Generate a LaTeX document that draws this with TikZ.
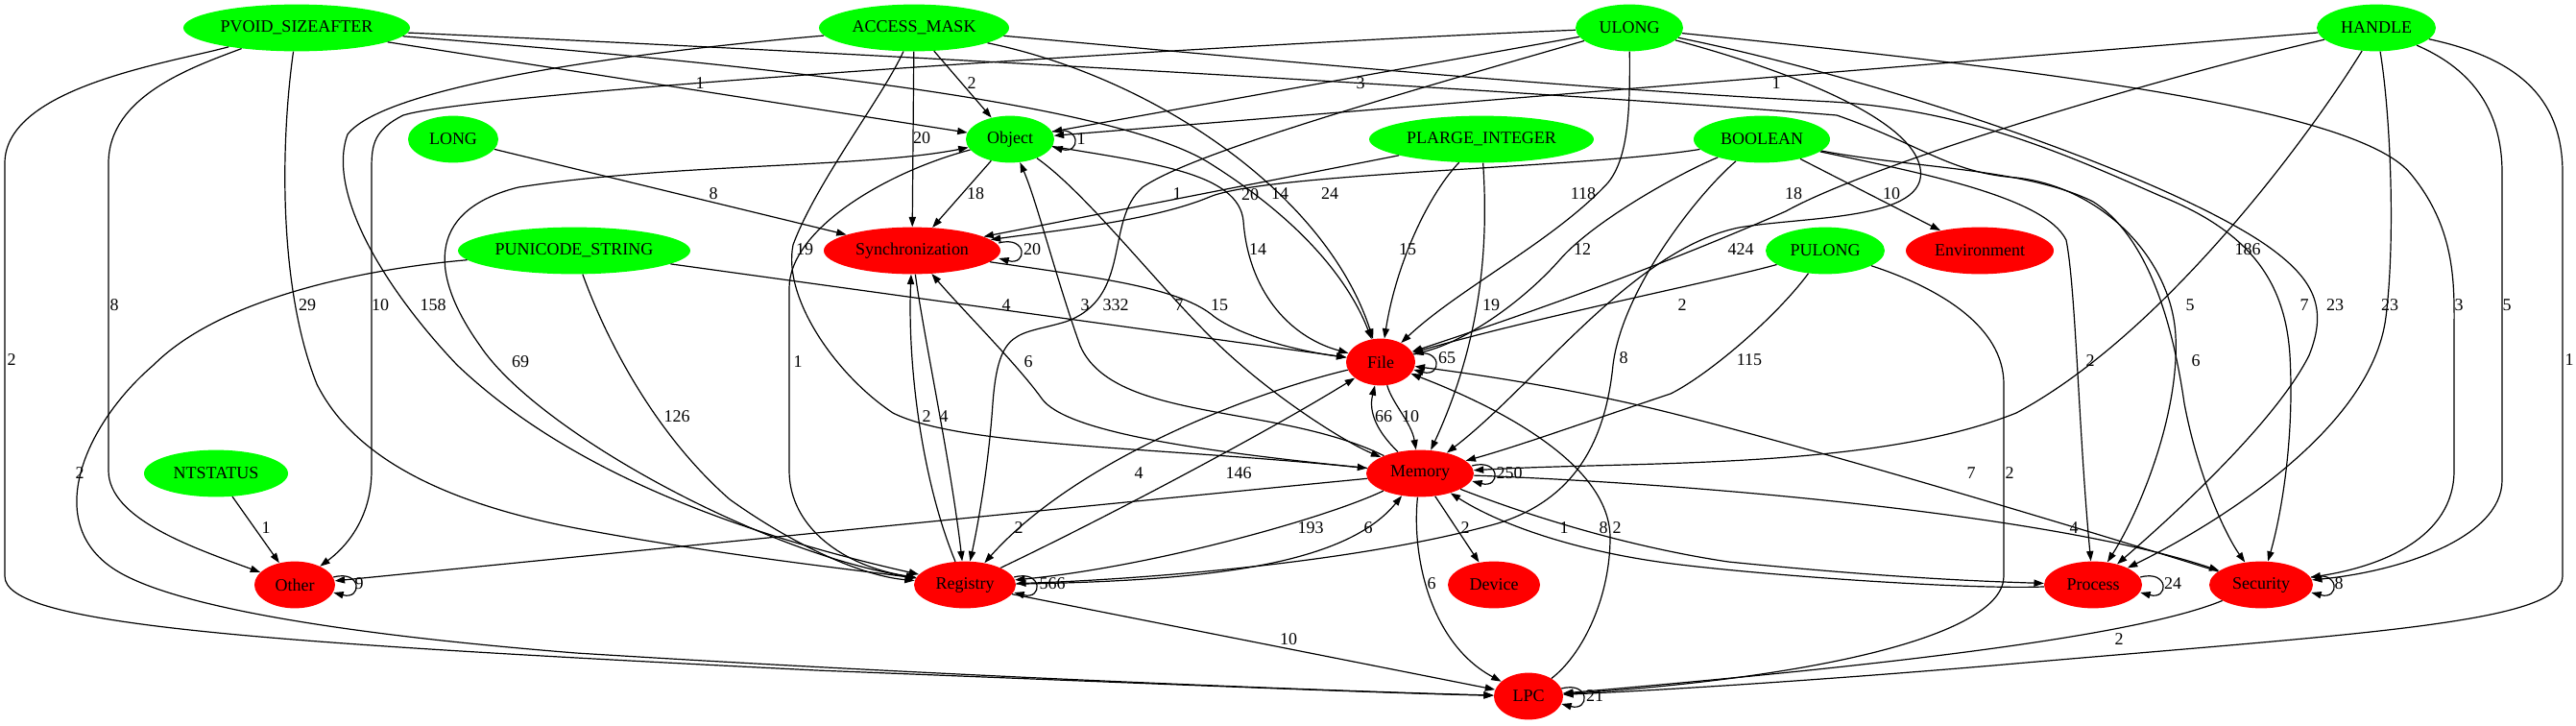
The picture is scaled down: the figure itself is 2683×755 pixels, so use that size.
\documentclass[tikz,border=0pt]{standalone}
\usepackage{fontspec}
\setmainfont{Liberation Serif}
\usetikzlibrary{shapes.geometric,arrows.meta}
\definecolor{gvgreen}{RGB}{0,255,0}
\definecolor{gvred}{RGB}{255,0,0}
\begin{document}
\begin{tikzpicture}[x=0.25mm,y=-0.25mm,font=\fontsize{12.8}{15}\selectfont,
  gn/.style={ellipse,fill=gvgreen,inner sep=0pt,minimum height=12.2mm},
  rn/.style={ellipse,fill=gvred,inner sep=0pt,minimum height=12.2mm},
  lbl/.style={inner sep=0pt},
  conn/.style={-{Triangle[length=2.6mm,width=1.8mm]},line width=0.3mm}]
\useasboundingbox (0,0) rectangle (2683,755);
% nodes
\node[gn,minimum width=59mm] (pvoid) at (309,29) {PVOID\_SIZEAFTER};
\node[gn,minimum width=49.5mm] (access) at (952,29) {ACCESS\_MASK};
\node[gn,minimum width=28mm] (ulong) at (1697,29) {ULONG};
\node[gn,minimum width=31mm] (handle) at (2475,29) {HANDLE};
\node[gn,minimum width=23.5mm] (longn) at (472,145) {LONG};
\node[gn,minimum width=23mm] (object) at (1052,145) {Object};
\node[gn,minimum width=58.5mm] (plarge) at (1543,145) {PLARGE\_INTEGER};
\node[gn,minimum width=35.5mm] (boolean) at (1835,145) {BOOLEAN};
\node[gn,minimum width=60.5mm] (punicode) at (598,261) {PUNICODE\_STRING};
\node[rn,minimum width=46mm] (sync) at (950,261) {Synchronization};
\node[gn,minimum width=31mm] (pulong) at (1901,261) {PULONG};
\node[rn,minimum width=38.5mm] (env) at (2062,261) {Environment};
\node[rn,minimum width=18mm] (file) at (1438,377) {File};
\node[gn,minimum width=37.5mm] (ntstatus) at (225,493) {NTSTATUS};
\node[rn,minimum width=28mm] (memory) at (1479,493) {Memory};
\node[rn,minimum width=21mm] (other) at (307,609) {Other};
\node[rn,minimum width=26.5mm] (registry) at (1005,609) {Registry};
\node[rn,minimum width=24mm] (device) at (1556,609) {Device};
\node[rn,minimum width=25.5mm] (process) at (2180,609) {Process};
\node[rn,minimum width=27mm] (security) at (2355,609) {Security};
\node[rn,minimum width=18mm] (lpc) at (1592,725) {LPC};
% PVOID_SIZEAFTER
\draw[conn] (pvoid) -- (object);
\draw[conn] (pvoid) .. controls (200,70) and (113,100) .. (113,170) -- (113,490) .. controls (113,540) and (200,570) .. (other);
\draw[conn] (pvoid) .. controls (180,65) and (5,90) .. (5,170) -- (5,600) .. controls (5,650) and (250,668) .. (850,698) .. controls (1200,712) and (1450,722) .. (lpc);
\draw[conn] (pvoid) .. controls (292,150) and (290,300) .. (330,400) .. controls (370,480) and (470,525) .. (600,550) .. controls (750,578) and (880,592) .. (registry);
\draw[conn] (pvoid) .. controls (700,60) and (1150,100) .. (1260,170) .. controls (1340,220) and (1400,280) .. (file);
\draw[conn] (pvoid) .. controls (900,55) and (1600,95) .. (1913,120) .. controls (2000,150) and (2030,180) .. (2100,185) .. controls (2190,195) and (2262,270) .. (2266,350) .. controls (2270,430) and (2230,530) .. (process);
% ACCESS_MASK
\draw[conn] (access) .. controls (1300,60) and (1600,90) .. (1908,106) .. controls (2050,115) and (2150,160) .. (2250,204) .. controls (2340,240) and (2380,290) .. (2385,370) .. controls (2390,460) and (2375,540) .. (security);
\draw[conn] (access) .. controls (650,55) and (400,90) .. (362,140) .. controls (340,200) and (400,300) .. (476,380) .. controls (560,460) and (700,540) .. (registry);
\draw[conn] (access) -- (object);
\draw[conn] (access) -- (sync);
\draw[conn] (access) .. controls (920,100) and (850,190) .. (826,255) .. controls (815,310) and (870,390) .. (930,430) .. controls (1000,465) and (1200,465) .. (memory);
\draw[conn] (access) .. controls (1200,80) and (1380,200) .. (file);
% ULONG
\draw[conn] (ulong) -- (object);
\draw[conn] (ulong) .. controls (1300,45) and (500,95) .. (420,120) .. controls (390,135) and (387,150) .. (387,175) -- (387,490) .. controls (387,540) and (360,570) .. (other);
\draw[conn] (ulong) .. controls (1450,100) and (1240,160) .. (1190,195) .. controls (1150,230) and (1180,310) .. (1110,335) .. controls (1060,350) and (1040,340) .. (1034,420) .. controls (1030,480) and (1020,540) .. (registry);
\draw[conn] (ulong) .. controls (1698,120) and (1695,165) .. (1675,190) .. controls (1620,250) and (1520,300) .. (file);
\draw[conn] (ulong) .. controls (1850,70) and (1990,120) .. (2000,175) .. controls (2010,230) and (1880,225) .. (1811,237) .. controls (1700,260) and (1600,400) .. (memory);
\draw[conn] (ulong) .. controls (1950,80) and (2250,180) .. (2360,255) .. controls (2410,290) and (2425,320) .. (2405,370) .. controls (2370,440) and (2260,540) .. (process);
\draw[conn] (ulong) .. controls (2100,70) and (2450,110) .. (2510,180) .. controls (2560,240) and (2556,300) .. (2556,350) -- (2556,490) .. controls (2556,560) and (2480,590) .. (security);
% HANDLE
\draw[conn] (handle) -- (object);
\draw[conn] (handle) .. controls (2250,80) and (1950,170) .. (1860,220) .. controls (1700,290) and (1550,340) .. (file);
\draw[conn] (handle) .. controls (2400,150) and (2250,350) .. (2100,430) .. controls (1950,490) and (1700,480) .. (memory);
\draw[conn] (handle) .. controls (2490,120) and (2495,250) .. (2485,330) .. controls (2470,450) and (2300,550) .. (process);
\draw[conn] (handle) .. controls (2570,70) and (2606,110) .. (2606,180) -- (2606,500) .. controls (2606,560) and (2500,595) .. (security);
\draw[conn] (handle) .. controls (2620,60) and (2669,100) .. (2669,180) -- (2669,600) .. controls (2669,650) and (2450,660) .. (2076,693) .. controls (1850,712) and (1700,720) .. (lpc);
% LONG, NTSTATUS
\draw[conn] (longn) -- (sync);
\draw[conn] (ntstatus) -- (other);
% PLARGE_INTEGER
\draw[conn] (plarge) -- (sync);
\draw[conn] (plarge) .. controls (1490,200) and (1455,270) .. (file);
\draw[conn] (plarge) .. controls (1550,250) and (1545,350) .. (memory);
% BOOLEAN
\draw[conn] (boolean) .. controls (1650,175) and (1320,180) .. (1260,205) .. controls (1200,230) and (1100,240) .. (sync);
\draw[conn] (boolean) .. controls (1750,180) and (1660,230) .. (1625,270) .. controls (1590,310) and (1530,355) .. (file);
\draw[conn] (boolean) .. controls (1770,200) and (1690,300) .. (1680,380) .. controls (1672,460) and (1640,520) .. (1560,545) .. controls (1400,590) and (1150,605) .. (registry);
\draw[conn] (boolean) -- (env);
\draw[conn] (boolean) .. controls (2000,180) and (2130,205) .. (2152,250) .. controls (2162,300) and (2165,450) .. (process);
\draw[conn] (boolean) .. controls (1990,175) and (2110,175) .. (2180,210) .. controls (2235,245) and (2262,330) .. (2275,420) .. controls (2290,500) and (2320,560) .. (security);
% PULONG
\draw[conn] (pulong) .. controls (1800,290) and (1600,330) .. (file);
\draw[conn] (pulong) .. controls (1850,330) and (1780,390) .. (1740,410) .. controls (1650,440) and (1580,465) .. (memory);
\draw[conn] (pulong) .. controls (2020,300) and (2087,340) .. (2087,400) -- (2087,600) .. controls (2087,660) and (1900,705) .. (lpc);
% PUNICODE_STRING
\draw[conn] (punicode) -- (file);
\draw[conn] (punicode) .. controls (630,350) and (680,450) .. (760,520) .. controls (830,570) and (900,600) .. (registry);
\draw[conn] (punicode) .. controls (380,280) and (230,310) .. (160,380) .. controls (90,440) and (45,540) .. (115,590) .. controls (170,630) and (350,660) .. (600,680) .. controls (1000,705) and (1400,720) .. (lpc);
% Object
\draw[conn] (object) -- (sync);
\draw[conn] (object) .. controls (1200,170) and (1290,180) .. (1295,230) .. controls (1300,300) and (1340,350) .. (file);
\draw[conn] (object) .. controls (1130,200) and (1200,290) .. (1260,350) .. controls (1320,410) and (1400,460) .. (memory);
\draw[conn] (object) .. controls (920,180) and (822,240) .. (822,300) -- (822,490) .. controls (822,550) and (880,590) .. (registry);
% Synchronization
\draw[conn] (sync) .. controls (1150,290) and (1230,300) .. (1265,330) .. controls (1300,355) and (1370,368) .. (file);
\draw[conn] (sync) .. controls (962,350) and (990,480) .. (registry);
% Registry
\draw[conn] (registry) .. controls (960,500) and (945,380) .. (sync);
\draw[conn] (registry) .. controls (800,580) and (560,450) .. (500,360) .. controls (450,290) and (440,220) .. (540,195) .. controls (700,170) and (900,175) .. (object);
\draw[conn] (registry) .. controls (1150,540) and (1320,450) .. (file);
\draw[conn] (registry) .. controls (1250,605) and (1400,590) .. (memory);
\draw[conn] (registry) -- (lpc);
% File
\draw[conn] (file) .. controls (1450,420) and (1470,440) .. (memory);
\draw[conn] (file) .. controls (1300,410) and (1120,480) .. (registry);
% Memory
\draw[conn] (memory) .. controls (1435,450) and (1425,430) .. (file);
\draw[conn] (memory) .. controls (1250,470) and (1110,450) .. (1085,415) .. controls (1060,380) and (1000,320) .. (sync);
\draw[conn] (memory) .. controls (1330,420) and (1160,440) .. (1125,360) .. controls (1100,290) and (1080,210) .. (object);
\draw[conn] (memory) .. controls (1200,520) and (700,570) .. (other);
\draw[conn] (memory) .. controls (1380,540) and (1200,590) .. (registry);
\draw[conn] (memory) -- (device);
\draw[conn] (memory) .. controls (1470,580) and (1490,670) .. (lpc);
\draw[conn] (memory) .. controls (1600,540) and (1700,570) .. (1800,585) .. controls (1950,600) and (2050,605) .. (process);
\draw[conn] (memory) .. controls (1800,505) and (2150,540) .. (security);
% Process, Security, LPC
\draw[conn] (process) .. controls (2050,614) and (1850,600) .. (1750,588) .. controls (1640,575) and (1560,545) .. (memory);
\draw[conn] (security) .. controls (2150,545) and (1900,470) .. (1740,430) .. controls (1640,405) and (1540,390) .. (file);
\draw[conn] (security) .. controls (2230,660) and (2000,690) .. (lpc);
\draw[conn] (lpc) .. controls (1650,680) and (1677,620) .. (1677,560) .. controls (1677,480) and (1550,420) .. (file);
% self loops
\draw[conn] ([xshift=-0.5mm,yshift=2mm]object.east) .. controls +(30,-8) and +(30,8) .. ([xshift=-0.5mm,yshift=-2mm]object.east);
\draw[conn] ([xshift=-0.5mm,yshift=2mm]sync.east) .. controls +(30,-8) and +(30,8) .. ([xshift=-0.5mm,yshift=-2mm]sync.east);
\draw[conn] ([xshift=-0.5mm,yshift=2mm]file.east) .. controls +(30,-8) and +(30,8) .. ([xshift=-0.5mm,yshift=-2mm]file.east);
\draw[conn] ([xshift=-0.5mm,yshift=2mm]memory.east) .. controls +(30,-8) and +(30,8) .. ([xshift=-0.5mm,yshift=-2mm]memory.east);
\draw[conn] ([xshift=-0.5mm,yshift=2mm]other.east) .. controls +(30,-8) and +(30,8) .. ([xshift=-0.5mm,yshift=-2mm]other.east);
\draw[conn] ([xshift=-0.5mm,yshift=2mm]registry.east) .. controls +(30,-8) and +(30,8) .. ([xshift=-0.5mm,yshift=-2mm]registry.east);
\draw[conn] ([xshift=-0.5mm,yshift=2mm]process.east) .. controls +(30,-8) and +(30,8) .. ([xshift=-0.5mm,yshift=-2mm]process.east);
\draw[conn] ([xshift=-0.5mm,yshift=2mm]security.east) .. controls +(30,-8) and +(30,8) .. ([xshift=-0.5mm,yshift=-2mm]security.east);
\draw[conn] ([xshift=-0.5mm,yshift=2mm]lpc.east) .. controls +(30,-8) and +(30,8) .. ([xshift=-0.5mm,yshift=-2mm]lpc.east);
% labels
\node[lbl] (l1) at (729,87) {1};
\node[lbl] (l2) at (119,318) {8};
\node[lbl] (l3) at (12,375) {2};
\node[lbl] (l4) at (320,318) {29};
\node[lbl] (l5) at (1333,202) {14};
\node[lbl] (l6) at (2281,318) {5};
\node[lbl] (l7) at (2400,318) {7};
\node[lbl] (l8) at (451,318) {158};
\node[lbl] (l9) at (1012,87) {2};
\node[lbl] (l10) at (960,144) {20};
\node[lbl] (l11) at (838,260) {19};
\node[lbl] (l12) at (1385,202) {24};
\node[lbl] (l13) at (1417,87) {3};
\node[lbl] (l14) at (396,318) {10};
\node[lbl] (l15) at (1162,318) {332};
\node[lbl] (l16) at (1649,202) {118};
\node[lbl] (l17) at (1813,260) {424};
\node[lbl] (l18) at (2432,318) {23};
\node[lbl] (l19) at (2561,318) {3};
\node[lbl] (l20) at (1850,87) {1};
\node[lbl] (l21) at (1868,202) {18};
\node[lbl] (l22) at (2341,260) {186};
\node[lbl] (l23) at (2489,318) {23};
\node[lbl] (l24) at (2611,318) {5};
\node[lbl] (l25) at (2676,375) {1};
\node[lbl] (l26) at (743,202) {8};
\node[lbl] (l27) at (1126,145) {1};
\node[lbl] (l28) at (1226,202) {1};
\node[lbl] (l29) at (1466,260) {15};
\node[lbl] (l30) at (1553,318) {19};
\node[lbl] (l31) at (1302,203) {20};
\node[lbl] (l32) at (1648,260) {12};
\node[lbl] (l33) at (1691,373) {8};
\node[lbl] (l34) at (1970,202) {10};
\node[lbl] (l35) at (2177,376) {2};
\node[lbl] (l36) at (2287,376) {6};
\node[lbl] (l37) at (1752,318) {2};
\node[lbl] (l38) at (1822,375) {115};
\node[lbl] (l39) at (2093,493) {2};
\node[lbl] (l40) at (1048,318) {4};
\node[lbl] (l41) at (705,434) {126};
\node[lbl] (l42) at (83,493) {2};
\node[lbl] (l43) at (1075,260) {20};
\node[lbl] (l44) at (1270,318) {15};
\node[lbl] (l45) at (983,434) {4};
\node[lbl] (l46) at (965,434) {2};
\node[lbl] (l47) at (1071,377) {6};
\node[lbl] (l48) at (1130,318) {3};
\node[lbl] (l49) at (1228,318) {7};
\node[lbl] (l50) at (1016,202) {18};
\node[lbl] (l51) at (1310,260) {14};
\node[lbl] (l52) at (831,377) {1};
\node[lbl] (l53) at (542,377) {69};
\node[lbl] (l54) at (1507,373) {65};
\node[lbl] (l55) at (1469,434) {10};
\node[lbl] (l56) at (1441,434) {66};
\node[lbl] (l57) at (1572,493) {250};
\node[lbl] (l58) at (1061,550) {2};
\node[lbl] (l59) at (1365,550) {193};
\node[lbl] (l60) at (1425,550) {6};
\node[lbl] (l61) at (1526,550) {2};
\node[lbl] (l62) at (1491,608) {6};
\node[lbl] (l63) at (1629,550) {1};
\node[lbl] (l64) at (1670,550) {8};
\node[lbl] (l65) at (2160,550) {4};
\node[lbl] (l66) at (1096,608) {566};
\node[lbl] (l67) at (1342,666) {10};
\node[lbl] (l68) at (1290,493) {146};
\node[lbl] (l69) at (1186,493) {4};
\node[lbl] (l70) at (2053,493) {7};
\node[lbl] (l71) at (1684,550) {2};
\node[lbl] (l72) at (2207,666) {2};
\node[lbl] (l73) at (277,550) {1};
\node[lbl] (l74) at (374,608) {9};
\node[lbl] (l75) at (1661,725) {21};
\node[lbl] (l76) at (2263,608) {24};
\node[lbl] (l77) at (2436,608) {8};
\end{tikzpicture}
\end{document}
